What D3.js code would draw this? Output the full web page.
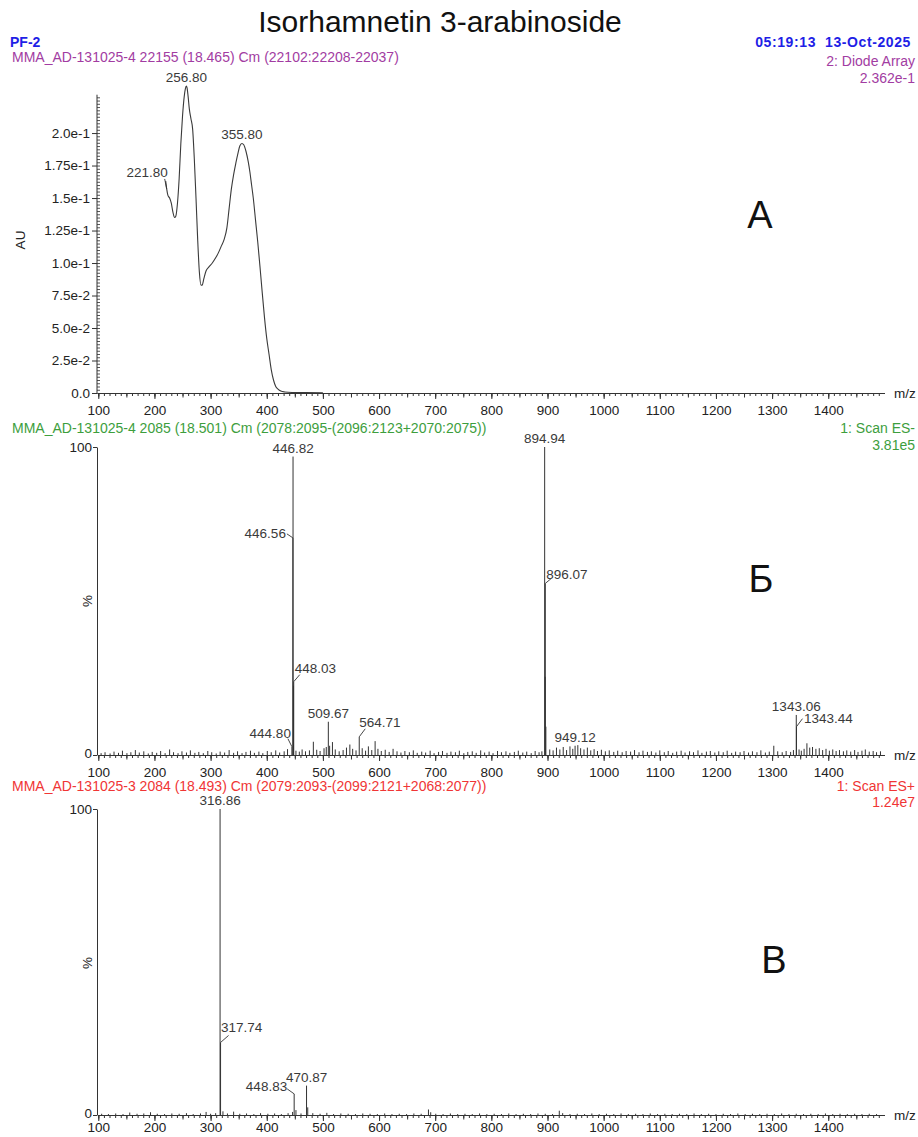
<!DOCTYPE html>
<html>
<head>
<meta charset="utf-8">
<script src="https://cdn.jsdelivr.net/npm/d3@7"></script>
<style>
  body { margin: 0; background: #fff; }
  svg { display: block; font-family: "Liberation Sans", Arial, sans-serif; }
  text { white-space: pre; }
</style>
</head>
<body>
<svg id="chart" width="918" height="1137"></svg>
<script>
// ---------- data ----------
const title = "Isorhamnetin 3-arabinoside";

// UV (diode array) spectrum: wavelength (nm) and absorbance (AU)
const uvWavelength = [220, 221.8, 224, 227, 230, 233, 236, 238, 241, 244, 247, 250, 253, 255, 256.8, 258, 260, 262, 265, 268, 271, 274, 277, 280, 283, 285, 288, 292, 297, 303, 309, 314, 319, 324, 329, 333, 337, 341, 345, 349, 352, 355.8, 359, 363, 367, 370, 373, 376, 380, 384, 388, 392, 396, 400, 404, 408, 412, 416, 420, 425, 432, 445, 470, 500];
const uvAbsorbance = [0.163, 0.157, 0.152, 0.150, 0.146, 0.139, 0.135, 0.136, 0.146, 0.165, 0.192, 0.213, 0.228, 0.234, 0.2362, 0.235, 0.228, 0.219, 0.211, 0.203, 0.180, 0.150, 0.118, 0.093, 0.083, 0.083, 0.088, 0.094, 0.097, 0.100, 0.104, 0.108, 0.113, 0.118, 0.127, 0.142, 0.157, 0.168, 0.177, 0.185, 0.190, 0.192, 0.191, 0.186, 0.178, 0.170, 0.160, 0.150, 0.133, 0.116, 0.097, 0.077, 0.058, 0.042, 0.030, 0.018, 0.010, 0.005, 0.003, 0.0015, 0.0008, 0.0004, 0.0003, 0.0002];
const uvLabels = [221.8, 256.8, 355.8];
const uvTickValues = [0, 0.025, 0.05, 0.075, 0.1, 0.125, 0.15, 0.175, 0.2];
const uvTickLabels = ["0.0", "2.5e-2", "5.0e-2", "7.5e-2", "1.0e-1", "1.25e-1", "1.5e-1", "1.75e-1", "2.0e-1"];

// ES- mass spectrum: main peaks [m/z, relative %]
const esNegPeaks = [[444.80, 2.7], [446.56, 70.5], [446.82, 96.9], [447.6, 22.5], [448.03, 23.8], [509.67, 10.8], [564.71, 5.9], [894.94, 100], [895.9, 25.4], [896.07, 55.7], [897.1, 9.2], [949.12, 3.0], [1343.06, 13.0], [1343.44, 9.2]];
const esNegLabels = [446.82, 446.56, 448.03, 444.80, 509.67, 564.71, 894.94, 896.07, 949.12, 1343.06, 1343.44];
// ES- minor ions / baseline noise [m/z, relative %]
const esNegMinor = [[105, 0.6], [112, 0.9], [121, 0.5], [128, 1.1], [136, 0.7], [143, 1.4], [151, 0.6], [158, 0.9], [166, 1.6], [173, 0.8], [181, 1.2], [189, 0.5], [196, 1.0], [204, 0.7], [211, 1.3], [219, 0.6], [227, 1.8], [234, 0.9], [242, 0.6], [249, 1.2], [257, 0.8], [264, 1.5], [272, 0.7], [279, 1.0], [287, 0.6], [295, 1.3], [302, 0.9], [310, 0.5], [317, 1.1], [325, 0.8], [333, 1.6], [341, 0.7], [348, 1.2], [356, 0.6], [363, 1.0], [371, 1.4], [378, 0.7], [386, 1.1], [393, 0.6], [401, 1.3], [408, 0.9], [416, 1.5], [423, 0.8], [431, 1.2], [437, 1.9], [452, 1.4], [458, 1.1], [463, 1.8], [469, 1.2], [476, 1.5], [483, 4.3], [489, 1.7], [495, 1.3], [502, 2.2], [506, 2.6], [512, 3.0], [517, 4.2], [522, 1.8], [529, 1.2], [536, 1.6], [542, 2.4], [548, 3.4], [553, 2.0], [559, 1.5], [570, 2.2], [576, 1.4], [581, 2.8], [587, 1.6], [593, 4.5], [598, 2.0], [604, 1.3], [611, 1.7], [618, 1.0], [625, 2.0], [632, 1.2], [639, 0.8], [646, 1.3], [654, 0.9], [661, 1.5], [668, 0.7], [676, 1.1], [683, 0.8], [691, 1.4], [698, 0.6], [706, 1.0], [713, 1.3], [721, 0.7], [728, 1.1], [736, 0.9], [743, 1.4], [751, 0.6], [758, 1.0], [766, 1.2], [773, 0.7], [781, 1.5], [788, 0.8], [796, 1.1], [803, 0.6], [811, 1.3], [818, 0.9], [826, 1.2], [833, 0.7], [841, 1.0], [848, 1.4], [856, 0.8], [863, 1.1], [871, 0.6], [878, 1.3], [885, 0.9], [890, 1.2], [904, 1.8], [910, 1.5], [916, 2.4], [922, 1.8], [928, 2.6], [934, 1.6], [940, 2.8], [945, 2.0], [954, 3.2], [959, 2.2], [965, 1.8], [971, 2.4], [977, 1.5], [983, 1.9], [989, 1.3], [996, 1.7], [1003, 1.2], [1010, 1.5], [1018, 1.0], [1025, 1.4], [1033, 0.9], [1040, 1.3], [1048, 1.1], [1055, 1.6], [1063, 0.9], [1070, 1.4], [1078, 1.0], [1085, 1.2], [1093, 0.8], [1100, 1.5], [1108, 0.9], [1115, 1.3], [1123, 0.7], [1130, 1.1], [1138, 1.4], [1145, 0.8], [1153, 1.2], [1160, 0.9], [1168, 1.5], [1175, 0.7], [1183, 1.1], [1190, 1.3], [1198, 0.8], [1205, 1.2], [1213, 0.9], [1220, 1.4], [1228, 0.7], [1235, 1.1], [1243, 0.9], [1250, 1.3], [1258, 0.8], [1265, 1.2], [1273, 0.9], [1280, 1.5], [1288, 0.8], [1295, 1.1], [1303, 3.0], [1310, 1.2], [1318, 0.9], [1325, 1.3], [1333, 1.0], [1338, 1.6], [1348, 1.8], [1352, 1.4], [1357, 2.0], [1362, 3.8], [1367, 2.4], [1372, 2.6], [1378, 2.0], [1384, 2.2], [1390, 1.6], [1396, 2.0], [1402, 1.4], [1408, 1.8], [1414, 1.3], [1420, 1.6], [1427, 1.2], [1433, 1.5], [1440, 1.1], [1447, 1.6], [1453, 1.0], [1460, 1.4], [1466, 1.8], [1473, 1.1], [1480, 1.3], [1486, 0.9], [1493, 1.2]];

// ES+ mass spectrum
const esPosPeaks = [[316.86, 100], [317.74, 23.7], [448.83, 6.9], [470.87, 9.6]];
const esPosLabels = [316.86, 317.74, 448.83, 470.87];
const esPosMinor = [[106, 0.4], [118, 0.3], [131, 0.5], [144, 0.3], [156, 0.8], [169, 0.4], [181, 0.5], [193, 0.9], [205, 0.4], [218, 0.3], [231, 0.5], [244, 0.4], [257, 0.6], [269, 0.3], [282, 0.5], [292, 1.0], [300, 0.4], [309, 0.6], [322, 1.2], [330, 0.5], [341, 1.1], [352, 0.4], [364, 0.5], [377, 0.3], [389, 0.6], [402, 0.4], [414, 0.5], [426, 0.3], [438, 0.6], [446, 1.0], [452, 1.6], [461, 0.5], [473, 2.5], [482, 0.6], [495, 0.4], [507, 0.7], [519, 0.3], [532, 0.5], [545, 0.4], [558, 0.3], [571, 0.5], [584, 0.4], [597, 0.3], [610, 0.5], [623, 0.3], [636, 0.4], [649, 0.3], [662, 0.5], [675, 0.4], [688, 1.8], [692, 0.9], [701, 0.4], [714, 0.3], [727, 0.5], [740, 0.3], [753, 0.4], [766, 0.3], [779, 0.5], [792, 0.3], [805, 0.4], [818, 0.3], [831, 0.5], [844, 0.3], [857, 0.4], [870, 0.3], [883, 0.5], [896, 0.4], [909, 0.3], [921, 1.4], [927, 0.6], [940, 0.3], [953, 0.4], [966, 0.3], [979, 0.5], [992, 0.3], [1005, 0.4], [1018, 0.3], [1031, 0.5], [1044, 0.3], [1057, 0.4], [1070, 0.3], [1083, 0.5], [1096, 0.3], [1109, 0.4], [1122, 0.3], [1135, 0.4], [1148, 0.3], [1161, 0.5], [1174, 0.3], [1187, 0.4], [1200, 0.3], [1213, 0.4], [1226, 0.3], [1239, 0.5], [1252, 0.3], [1265, 0.4], [1278, 0.3], [1291, 0.4], [1304, 0.3], [1317, 0.5], [1330, 0.3], [1343, 0.4], [1356, 0.3], [1369, 0.4], [1382, 0.3], [1395, 0.5], [1408, 0.3], [1421, 0.4], [1434, 0.3], [1447, 0.4], [1460, 0.3], [1473, 0.4], [1486, 0.3]];

const mzTickLabels = ["100", "200", "300", "400", "500", "600", "700", "800", "900", "1000", "1100", "1200", "1300", "1400"];
const pctTickLabels = ["0", "100"];

// ---------- layout / style ----------
const INK = "#333";
const FONT = 13.5;
const svg = d3.select("#chart");

const x = d3.scaleLinear().domain([100, 1500]).range([98.3, 884.4]);
const yUV = d3.scaleLinear().domain([0, 0.2362]).range([393, 86]);
const yNeg = d3.scaleLinear().domain([0, 100]).range([755, 447]);
const yPos = d3.scaleLinear().domain([0, 100]).range([1115, 809]);

// label placement around a peak apex: text offset, anchor, optional leader end
const labelStyle = {
  "446.56": { dx: -7, dy: 0, anchor: "end", leader: [-6, -4] },
  "448.03": { dx: 1, dy: -9, anchor: "start", leader: [6, -7] },
  "444.80": { dx: -1, dy: -9, anchor: "end", leader: [-4, -8] },
  "564.71": { dx: 0, dy: -10, anchor: "start", leader: [6, -8] },
  "896.07": { dx: 1, dy: -4, anchor: "start", leader: [6, -5] },
  "1343.44": { dx: 7.5, dy: -3.7, anchor: "start", leader: [6, -8] },
  "317.74": { dx: 0.5, dy: -10, anchor: "start", leader: [8, -7] },
  "448.83": { dx: -7, dy: -2.7, anchor: "end", leader: [-7, -5] },
  "221.80": { dx: 1, dy: -12, anchor: "end", leader: [-2, -10] }
};

function text(g, x0, y0, str, opts = {}) {
  return g.append("text")
    .attr("x", x0).attr("y", y0)
    .attr("text-anchor", opts.anchor || "start")
    .attr("font-size", opts.size || FONT)
    .attr("font-weight", opts.weight || "normal")
    .attr("letter-spacing", opts.spacing || 0)
    .attr("fill", opts.fill || INK)
    .text(str);
}

function peakLabel(g, px, py, str) {
  const s = labelStyle[str] || { dx: 0, dy: -4, anchor: "middle" };
  if (s.leader) {
    g.append("line")
      .attr("x1", px).attr("y1", py)
      .attr("x2", px + s.leader[0]).attr("y2", py + s.leader[1])
      .attr("stroke", INK).attr("stroke-width", 0.9);
  }
  text(g, px + s.dx, py + s.dy, str, { anchor: s.anchor, fill: "#3a3a3a" });
}

function mzAxis(y0, labelGap) {
  const g = svg.append("g").attr("transform", `translate(0,${y0})`);
  const minor = d3.range(100, 1500, 10);
  g.append("g").call(d3.axisBottom(x).tickValues(minor).tickSize(3).tickSizeOuter(0).tickFormat(""));
  g.append("g").call(d3.axisBottom(x).tickValues(minor.filter(v => v % 50 === 0)).tickSize(4.5).tickSizeOuter(0).tickFormat(""));
  const major = g.append("g").call(d3.axisBottom(x)
    .tickValues(mzTickLabels.map(Number)).tickSize(6).tickSizeOuter(0)
    .tickFormat((d, i) => mzTickLabels[i]));
  major.selectAll("text").attr("y", labelGap).attr("dy", "0.71em")
    .attr("font-size", FONT).attr("font-family", "Liberation Sans, Arial, sans-serif").attr("fill", "#222");
  g.selectAll(".domain, line").attr("stroke", INK);
  text(svg, 894, y0 + 5, "m/z", { fill: "#222" });
}

function pctAxis(yScale, ylab) {
  const g = svg.append("g").attr("transform", "translate(97,0)");
  g.call(d3.axisLeft(yScale).tickValues(pctTickLabels.map(Number)).tickSize(4).tickSizeOuter(0)
    .tickFormat((d, i) => pctTickLabels[i]));
  g.selectAll("text").attr("x", -5).attr("font-size", FONT).attr("font-family", "Liberation Sans, Arial, sans-serif").attr("fill", "#222")
    .attr("dy", d => d === 0 ? "0.15em" : "0.32em");
  g.selectAll(".domain, line").attr("stroke", INK);
  svg.append("text").attr("transform", `translate(92,${ylab}) rotate(-90)`)
    .attr("text-anchor", "middle").attr("font-size", FONT).attr("fill", "#222").text("%");
}

function sticks(g, data, yScale, width) {
  g.selectAll(null).data(data).enter().append("line")
    .attr("x1", d => x(d[0])).attr("x2", d => x(d[0]))
    .attr("y1", yScale(0)).attr("y2", d => yScale(d[1]))
    .attr("stroke", INK).attr("stroke-width", width);
}

// ---------- header ----------
text(svg, 440, 32, title, { anchor: "middle", size: 30, fill: "#111" });
text(svg, 10, 46.5, "PF-2", { size: 14, weight: "bold", fill: "#1f1fe6" });
text(svg, 911, 47, "05:19:13  13-Oct-2025", { anchor: "end", size: 14, weight: "bold", fill: "#1f1fe6", spacing: 0.6 });

// ---------- panel А : UV spectrum ----------
const PURPLE = "#a23ca2";
text(svg, 12, 62.3, "MMA_AD-131025-4 22155 (18.465) Cm (22102:22208-22037)", { size: 14, fill: PURPLE });
text(svg, 915, 66, "2: Diode Array", { anchor: "end", size: 14, fill: PURPLE });
text(svg, 915, 83, "2.362e-1", { anchor: "end", size: 14, fill: PURPLE });

const gA = svg.append("g");
const yAx = gA.append("g").attr("transform", "translate(97,0)");
yAx.call(d3.axisLeft(yUV).tickValues(uvTickValues).tickSize(5).tickSizeOuter(0)
  .tickFormat((d, i) => uvTickLabels[i]));
yAx.select(".domain").remove();
yAx.selectAll("text").attr("x", -7).attr("font-size", FONT).attr("font-family", "Liberation Sans, Arial, sans-serif").attr("fill", "#222");
yAx.selectAll("line").attr("stroke", INK);
gA.append("g").attr("transform", "translate(97,0)")
  .call(d3.axisRight(yUV).tickValues(d3.range(0, 0.229, 0.0025)).tickSize(3).tickSizeOuter(0).tickFormat(""))
  .call(g => g.select(".domain").remove())
  .selectAll("line").attr("stroke", "#555");
gA.append("line").attr("x1", 97).attr("x2", 97).attr("y1", yUV(0)).attr("y2", yUV(0.2295)).attr("stroke", INK);
svg.append("text").attr("transform", "translate(25,240) rotate(-90)")
  .attr("text-anchor", "middle").attr("font-size", FONT).attr("fill", "#222").text("AU");
mzAxis(393, 12);

const uvPoints = uvWavelength.map((w, i) => [w, uvAbsorbance[i]]);
gA.append("path").datum(uvPoints)
  .attr("d", d3.line().x(d => x(d[0])).y(d => yUV(d[1])).curve(d3.curveMonotoneX))
  .attr("fill", "none").attr("stroke", "#3a3a3a").attr("stroke-width", 1.1);
uvLabels.forEach(w => {
  const i = uvWavelength.indexOf(w);
  peakLabel(gA, x(w), yUV(uvAbsorbance[i]), w.toFixed(2));
});
text(svg, 760, 228, "А", { anchor: "middle", size: 38, fill: "#111" });

// ---------- panel Б : ES- ----------
const GREEN = "#3d9e3d";
text(svg, 12, 433, "MMA_AD-131025-4 2085 (18.501) Cm (2078:2095-(2096:2123+2070:2075))", { size: 14, fill: GREEN });
text(svg, 915, 433, "1: Scan ES-", { anchor: "end", size: 14, fill: GREEN });
text(svg, 915, 450, "3.81e5", { anchor: "end", size: 14, fill: GREEN });
const gB = svg.append("g");
sticks(gB, esNegMinor, yNeg, 1);
sticks(gB, esNegPeaks, yNeg, 1);
pctAxis(yNeg, 601);
mzAxis(755, 12);
esNegLabels.forEach(m => {
  const p = esNegPeaks.find(d => d[0] === m);
  peakLabel(gB, x(m), yNeg(p[1]), m.toFixed(2));
});
text(svg, 761, 592, "Б", { anchor: "middle", size: 38, fill: "#111" });

// ---------- panel В : ES+ ----------
const RED = "#f03535";
text(svg, 12, 791, "MMA_AD-131025-3 2084 (18.493) Cm (2079:2093-(2099:2121+2068:2077))", { size: 14, fill: RED });
text(svg, 915, 791, "1: Scan ES+", { anchor: "end", size: 14, fill: RED });
text(svg, 915, 807, "1.24e7", { anchor: "end", size: 14, fill: RED });
const gC = svg.append("g");
sticks(gC, esPosMinor, yPos, 1);
sticks(gC, esPosPeaks, yPos, 1);
pctAxis(yPos, 963);
mzAxis(1115, 7.5);
esPosLabels.forEach(m => {
  const p = esPosPeaks.find(d => d[0] === m);
  peakLabel(gC, x(m), yPos(p[1]), m.toFixed(2));
});
text(svg, 774, 973, "В", { anchor: "middle", size: 38, fill: "#111" });
</script>
</body>
</html>
